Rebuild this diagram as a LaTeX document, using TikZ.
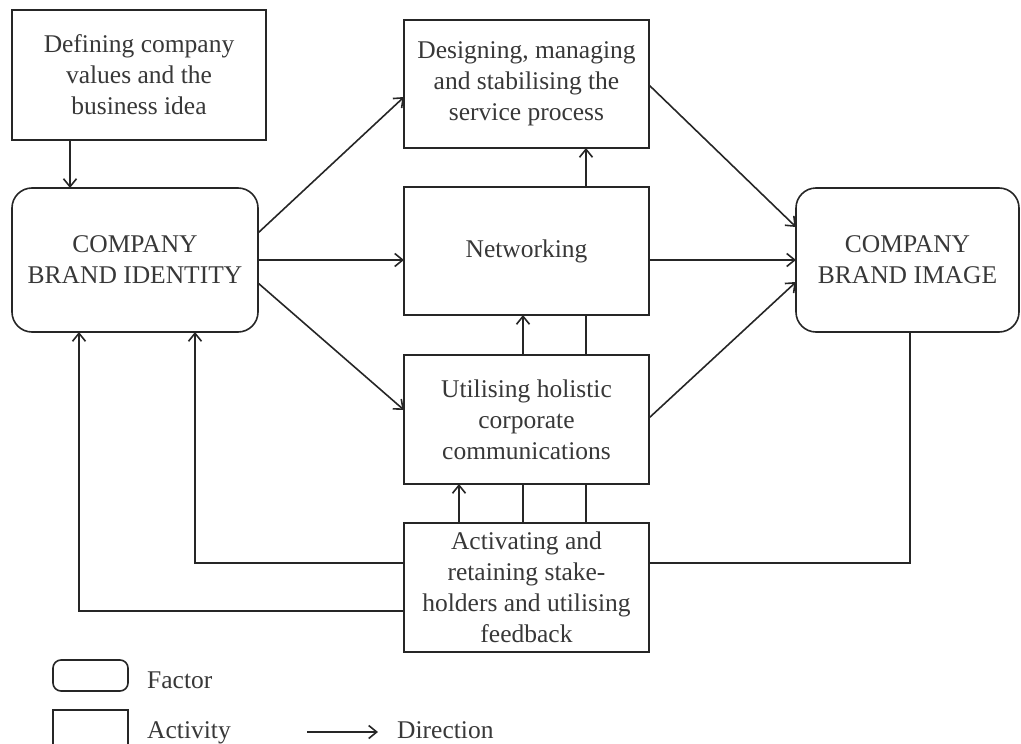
\documentclass[tikz,border=0pt]{standalone}
\usepackage{fontspec}
\setmainfont{Liberation Serif}
\usetikzlibrary{arrows.meta}
\begin{document}
\begin{tikzpicture}[x=1pt,y=-1pt,
  every node/.style={font=\fontsize{25.5}{31}\selectfont, text=black!78},
  box/.style={draw=black!85, line width=1.6pt, fill=white, inner sep=0pt,
              outer sep=0pt, align=center},
  activity/.style={box, minimum width=245pt},
  factor/.style={box, rounded corners=20pt},
  link/.style={draw=black!85, line width=1.6pt},
  arr/.style={link, -{Straight Barb[length=8pt,width=13pt]}},
  legtext/.style={anchor=base west, inner sep=0pt},
]
\useasboundingbox (0,0) rectangle (1021,744);
\clip (0,0) rectangle (1021,744);

% Boxes: activities (square) and factors (rounded)
\node[activity, minimum width=254pt, minimum height=130pt] (def) at (139,75)
  {Defining company\\values and the\\business idea};
\node[factor, minimum width=246pt, minimum height=144pt] (ident) at (135,260)
  {COMPANY\\BRAND IDENTITY};
\node[activity, minimum height=128pt] (des) at (526.5,84)
  {Designing, managing\\and stabilising the\\service process};
\node[activity, minimum height=128pt] (net) at (526.5,251) {Networking};
\node[activity, minimum height=129pt] (uti) at (526.5,419.5)
  {Utilising holistic\\corporate\\communications};
\node[activity, minimum height=129pt] (act) at (526.5,587.5)
  {Activating and\\retaining stake-\\holders and utilising\\feedback};
\node[factor, minimum width=223pt, minimum height=144pt] (img) at (907.5,260)
  {COMPANY\\BRAND IMAGE};

% Column positions of vertical connectors
\coordinate (xd) at (70,0);
\coordinate (xa) at (459,0);
\coordinate (xb) at (523,0);
\coordinate (xc) at (586,0);
\coordinate (xf) at (910,0);
\coordinate (xl1) at (195,0);
\coordinate (xl2) at (79,0);

% Values feed the identity
\draw[arr] (def.south -| xd) -- (ident.north -| xd);

% Identity to the activities
\draw[arr] ([yshift=27pt]ident.east) -- ([yshift=-13pt]des.west);
\draw[arr] ([yshift=0pt]ident.east) -- (ident.east -| net.west);
\draw[arr] ([yshift=-23pt]ident.east) -- ([yshift=9.5pt]uti.west);

% Activities to the image
\draw[arr] ([yshift=-1pt]des.east) -- ([yshift=33pt]img.west);
\draw[arr] (img.west -| net.east) -- (img.west);
\draw[arr] ([yshift=1.5pt]uti.east) -- ([yshift=-22pt]img.west);

% Links between the activity column
\draw[arr] (act.north -| xa) -- (uti.south -| xa);
\draw[link] (act.north -| xb) -- (uti.south -| xb);
\draw[arr] (uti.north -| xb) -- (net.south -| xb);
\draw[link] (act.north -| xc) -- (uti.south -| xc);
\draw[link] (uti.north -| xc) -- (net.south -| xc);
\draw[arr] (net.north -| xc) -- (des.south -| xc);

% Feedback loops
\draw[link] (img.south -| xf) |- ([yshift=24.5pt]act.east);
\draw[arr] ([yshift=24.5pt]act.west) -| (ident.south -| xl1);
\draw[arr] ([yshift=-23.5pt]act.west) -| (ident.south -| xl2);

% Legend
\node[box, rounded corners=8pt, minimum width=75pt, minimum height=31pt] (legf) at (90.5,675.5) {};
\node[box, minimum width=75pt, minimum height=40pt] (lega) at (90.5,730) {};
\node[legtext] (legft) at (147,688) {Factor};
\node[legtext] (legat) at (147,738) {Activity};
\node[legtext] (legdt) at (397,738) {Direction};
\coordinate (la) at (307,732);
\draw[arr] (la) -- (la -| 378,0);
\end{tikzpicture}
\end{document}
